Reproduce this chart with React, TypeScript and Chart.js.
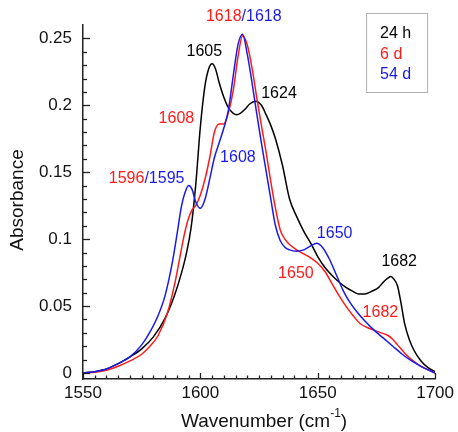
import React, { useEffect, useRef } from 'react';
import { Chart, registerables } from 'chart.js';

Chart.register(...registerables);

// ---- data ----
const wn24h = [1550, 1555, 1560, 1565, 1570, 1575, 1580, 1585, 1589, 1592, 1594, 1596, 1598, 1600, 1602, 1603.5, 1605, 1606.5, 1608, 1610, 1612, 1614, 1615.5, 1617, 1619, 1621, 1623.5, 1626, 1628, 1630, 1632, 1635, 1638, 1641, 1644, 1647, 1650, 1653, 1656, 1659, 1662, 1665, 1667.5, 1670, 1673, 1676, 1678, 1680, 1681, 1682.5, 1684, 1685.5, 1687, 1689, 1691, 1694, 1697, 1700];
const abs24h = [0, 0.001, 0.003, 0.007, 0.012, 0.018, 0.027, 0.041, 0.058, 0.075, 0.089, 0.108, 0.14, 0.184, 0.215, 0.227, 0.231, 0.227, 0.217, 0.206, 0.198, 0.194, 0.193, 0.194, 0.197, 0.201, 0.203, 0.2, 0.193, 0.185, 0.175, 0.155, 0.13, 0.117, 0.106, 0.097, 0.087, 0.079, 0.073, 0.068, 0.064, 0.061, 0.059, 0.059, 0.061, 0.064, 0.068, 0.071, 0.072, 0.07, 0.065, 0.052, 0.037, 0.025, 0.017, 0.009, 0.004, 0.001];

const wn6d = [1550, 1555, 1560, 1565, 1570, 1575, 1578, 1582, 1586, 1589, 1591, 1593, 1594.5, 1596.5, 1598, 1600, 1602, 1604, 1606, 1608, 1610, 1612, 1614, 1616, 1618, 1620, 1622, 1624, 1626, 1628, 1630, 1632, 1634, 1636, 1638, 1641, 1644, 1647, 1650, 1653, 1656, 1659, 1662, 1665, 1668, 1671, 1674, 1677, 1680, 1682, 1684, 1687, 1690, 1694, 1700];
const abs6d = [0, 0.0005, 0.002, 0.005, 0.009, 0.014, 0.019, 0.028, 0.045, 0.066, 0.084, 0.102, 0.113, 0.122, 0.125, 0.133, 0.145, 0.161, 0.18, 0.186, 0.186, 0.195, 0.211, 0.236, 0.252, 0.245, 0.228, 0.206, 0.185, 0.165, 0.143, 0.123, 0.107, 0.1, 0.096, 0.092, 0.089, 0.086, 0.082, 0.076, 0.067, 0.058, 0.05, 0.043, 0.037, 0.034, 0.032, 0.03, 0.028, 0.025, 0.021, 0.015, 0.01, 0.005, 0];

const wn54d = [1550, 1555, 1560, 1565, 1570, 1575, 1578, 1582, 1585, 1588, 1590, 1592, 1593.5, 1595, 1596.5, 1598, 1600, 1602, 1604, 1606, 1608, 1610, 1612, 1614, 1616, 1618, 1620, 1622, 1624, 1626, 1628, 1630, 1632, 1634, 1636, 1638, 1641, 1644, 1647, 1649.5, 1652, 1655, 1658, 1661, 1664, 1667, 1670, 1674, 1678, 1682, 1686, 1690, 1695, 1700];
const abs54d = [0, 0.001, 0.003, 0.007, 0.012, 0.021, 0.029, 0.043, 0.058, 0.082, 0.103, 0.125, 0.135, 0.14, 0.137, 0.128, 0.123, 0.13, 0.145, 0.161, 0.172, 0.183, 0.197, 0.222, 0.245, 0.253, 0.238, 0.217, 0.194, 0.172, 0.151, 0.13, 0.11, 0.099, 0.094, 0.092, 0.091, 0.092, 0.095, 0.097, 0.094, 0.085, 0.073, 0.061, 0.052, 0.045, 0.039, 0.032, 0.026, 0.02, 0.014, 0.009, 0.004, 0];

const seriesNames = ['24 h', '6 d', '54 d'];
const yTicks = [0, 0.05, 0.1, 0.15, 0.2, 0.25];
const xTicks = [1550, 1600, 1650, 1700];

const BLACK = '#000000';
const RED = '#ff1a1a';
const BLUE = '#1a1ae6';
const FONT = '"Liberation Sans", Arial, sans-serif';

type Part = { t: string; c: string };
const peakLabels: { parts: Part[]; x: number; y: number }[] = [
  { parts: [{ t: '1605', c: BLACK }], x: 1601.7, y: 0.240 },
  { parts: [{ t: '1618', c: RED }, { t: '/1618', c: BLUE }], x: 1618.5, y: 0.266 },
  { parts: [{ t: '1624', c: BLACK }], x: 1633.5, y: 0.209 },
  { parts: [{ t: '1608', c: RED }], x: 1589.8, y: 0.190 },
  { parts: [{ t: '1608', c: BLUE }], x: 1616, y: 0.161 },
  { parts: [{ t: '1596', c: RED }, { t: '/1595', c: BLUE }], x: 1577.1, y: 0.1455 },
  { parts: [{ t: '1650', c: BLUE }], x: 1657.2, y: 0.1045 },
  { parts: [{ t: '1650', c: RED }], x: 1640.7, y: 0.0746 },
  { parts: [{ t: '1682', c: BLACK }], x: 1684.7, y: 0.083 },
  { parts: [{ t: '1682', c: RED }], x: 1676.7, y: 0.045 },
];

const toPts = (xs: number[], ys: number[]) => xs.map((x, i) => ({ x, y: ys[i] }));

const decorPlugin = {
  id: 'decor',
  afterDraw(chart: any) {
    const { ctx, chartArea, scales } = chart;
    const xs = scales.x;
    const ys = scales.y;
    ctx.save();
    ctx.strokeStyle = '#222';
    ctx.lineWidth = 1.3;
    // y ticks (inward)
    for (let i = 0; i <= 25; i++) {
      const v = i / 100;
      const py = Math.round(ys.getPixelForValue(v)) + 0.5;
      const len = i % 5 === 0 ? 7 : 4;
      ctx.beginPath();
      ctx.moveTo(chartArea.left, py);
      ctx.lineTo(chartArea.left + len, py);
      ctx.stroke();
    }
    // x ticks (inward)
    for (let w = 1550; w <= 1700; w += 5) {
      const px = Math.round(xs.getPixelForValue(w)) + 0.5;
      const len = w % 50 === 0 ? 6 : 3.5;
      ctx.beginPath();
      ctx.moveTo(px, chartArea.bottom);
      ctx.lineTo(px, chartArea.bottom - len);
      ctx.stroke();
    }
    // peak labels
    ctx.font = `16px ${FONT}`;
    ctx.textBaseline = 'middle';
    ctx.textAlign = 'left';
    for (const lab of peakLabels) {
      const total = lab.parts.reduce((s, p) => s + ctx.measureText(p.t).width, 0);
      let x0 = xs.getPixelForValue(lab.x) - total / 2;
      const y0 = ys.getPixelForValue(lab.y);
      for (const p of lab.parts) {
        ctx.fillStyle = p.c;
        ctx.fillText(p.t, x0, y0);
        x0 += ctx.measureText(p.t).width;
      }
    }
    // legend box
    const bx = chartArea.right - 69;
    const by = chartArea.top - 12;
    ctx.strokeStyle = '#b0b0b0';
    ctx.lineWidth = 1;
    ctx.strokeRect(bx + 0.5, by + 0.5, 61, 79);
    const colors = [BLACK, RED, BLUE];
    seriesNames.forEach((n, i) => {
      ctx.fillStyle = colors[i];
      ctx.fillText(n, bx + 14, by + 21 + i * 20.5);
    });
    // axis titles
    ctx.fillStyle = '#111';
    ctx.font = `19px ${FONT}`;
    ctx.textAlign = 'center';
    ctx.save();
    ctx.translate(18, (chartArea.top + chartArea.bottom) / 2 - 2);
    ctx.rotate(-Math.PI / 2);
    ctx.fillText('Absorbance', 0, 0);
    ctx.restore();
    // x title with superscript
    const main = 'Wavenumber (cm';
    const sup = '-1';
    const tail = ')';
    ctx.font = `19px ${FONT}`;
    const wMain = ctx.measureText(main).width;
    const wTail = ctx.measureText(tail).width;
    ctx.font = `12px ${FONT}`;
    const wSup = ctx.measureText(sup).width;
    const tot = wMain + wSup + wTail;
    let tx = (chartArea.left + chartArea.right) / 2 + 5 - tot / 2;
    const ty = 422;
    ctx.textAlign = 'left';
    ctx.font = `19px ${FONT}`;
    ctx.fillText(main, tx, ty);
    tx += wMain;
    ctx.font = `12px ${FONT}`;
    ctx.fillText(sup, tx, ty - 8);
    tx += wSup;
    ctx.font = `19px ${FONT}`;
    ctx.fillText(tail, tx, ty);
    ctx.restore();
  },
};

export default function App() {
  const ref = useRef<HTMLCanvasElement>(null);
  useEffect(() => {
    if (!ref.current) return;
    const chart = new Chart(ref.current, {
      type: 'line',
      data: {
        datasets: [
          { label: seriesNames[2], data: toPts(wn54d, abs54d), borderColor: BLUE },
          { label: seriesNames[1], data: toPts(wn6d, abs6d), borderColor: RED },
          { label: seriesNames[0], data: toPts(wn24h, abs24h), borderColor: BLACK },
        ].map((d) => ({
          ...d,
          borderWidth: 1.5,
          pointRadius: 0,
          fill: false,
          cubicInterpolationMode: 'monotone' as const,
        })),
      },
      options: {
        animation: false,
        responsive: false,
        maintainAspectRatio: false,
        layout: { padding: { left: 0, top: 25, right: 21, bottom: 0 } },
        plugins: { legend: { display: false }, tooltip: { enabled: false } },
        scales: {
          x: {
            type: 'linear',
            min: 1550,
            max: 1700,
            afterFit: (s: any) => { s.height = 53; },
            afterBuildTicks: (s: any) => { s.ticks = xTicks.map((v) => ({ value: v })); },
            grid: { display: true, drawOnChartArea: false, drawTicks: false },
            border: { display: true, color: '#222', width: 1.5 },
            ticks: {
              font: { family: FONT, size: 17 },
              color: '#111',
              padding: 4,
              maxRotation: 0,
              callback: (v: any) => String(Number(v)),
            },
          },
          y: {
            type: 'linear',
            min: -0.0045,
            max: 0.26,
            afterFit: (s: any) => { s.width = 83; },
            afterBuildTicks: (s: any) => { s.ticks = yTicks.map((v) => ({ value: v })); },
            grid: { display: true, drawOnChartArea: false, drawTicks: false },
            border: { display: true, color: '#222', width: 1.5 },
            ticks: {
              font: { family: FONT, size: 17 },
              color: '#111',
              padding: 11,
              callback: (v: any) => String(Number(v)),
            },
          },
        },
      },
      plugins: [decorPlugin],
    });
    return () => chart.destroy();
  }, []);
  return (
    <div style={{ position: 'absolute', left: 0, top: 0, width: 458, height: 432, background: '#fff' }}>
      <canvas ref={ref} width={458} height={432} />
    </div>
  );
}
